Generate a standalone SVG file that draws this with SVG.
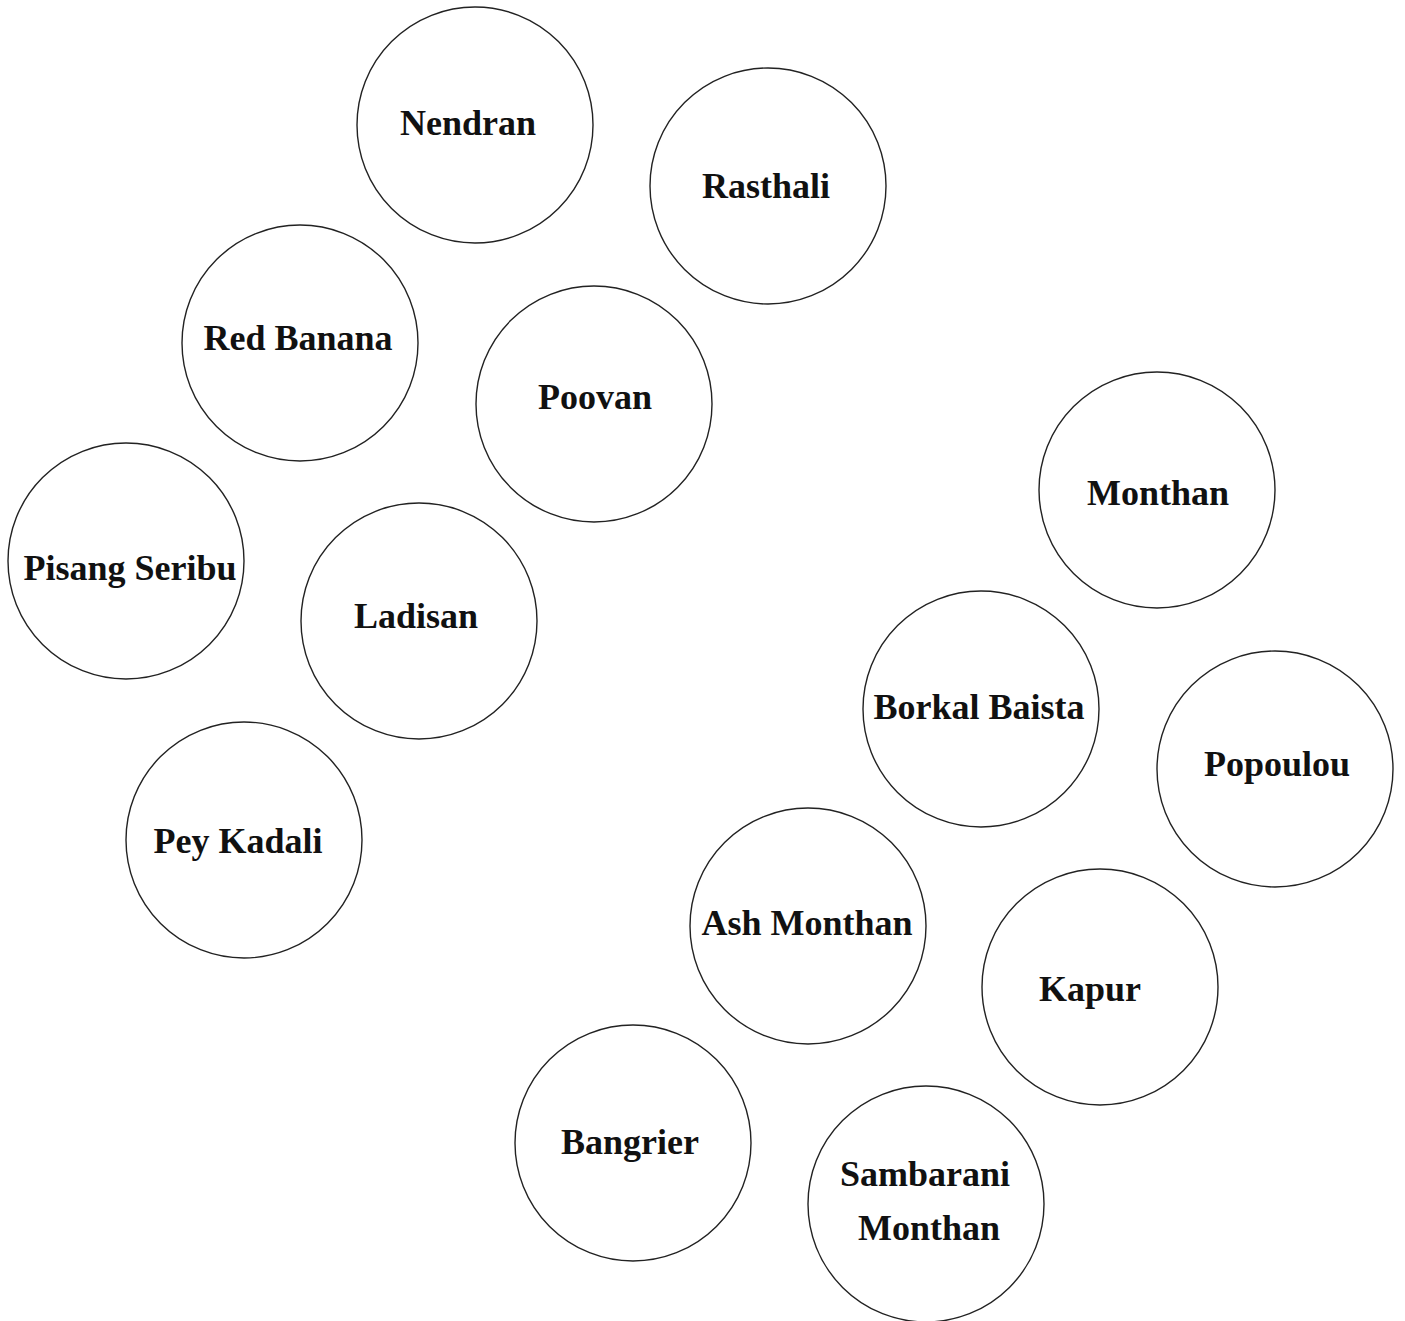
<svg xmlns="http://www.w3.org/2000/svg" width="1405" height="1321" viewBox="0 0 1405 1321">
<style>
.n circle{fill:#fff;stroke:#222;stroke-width:1.4}
.n text{font-family:"Liberation Serif","DejaVu Serif",serif;font-weight:bold;font-size:36px;fill:#111;text-anchor:middle}
</style>
<rect width="1405" height="1321" fill="#fff"/>
<g id="connectors"></g>
<g id="nendran" class="n"><circle cx="475" cy="125" r="118"/><text x="468" y="135">Nendran</text></g>
<g id="rasthali" class="n"><circle cx="768" cy="186" r="118"/><text x="766" y="198">Rasthali</text></g>
<g id="red-banana" class="n"><circle cx="300" cy="343" r="118"/><text x="298" y="350">Red Banana</text></g>
<g id="poovan" class="n"><circle cx="594" cy="404" r="118"/><text x="595" y="409">Poovan</text></g>
<g id="pisang-seribu" class="n"><circle cx="126" cy="561" r="118"/><text x="130" y="580">Pisang Seribu</text></g>
<g id="ladisan" class="n"><circle cx="419" cy="621" r="118"/><text x="416" y="628">Ladisan</text></g>
<g id="pey-kadali" class="n"><circle cx="244" cy="840" r="118"/><text x="238" y="853">Pey Kadali</text></g>
<g id="monthan" class="n"><circle cx="1157" cy="490" r="118"/><text x="1158" y="505">Monthan</text></g>
<g id="borkal-baista" class="n"><circle cx="981" cy="709" r="118"/><text x="979" y="719">Borkal Baista</text></g>
<g id="popoulou" class="n"><circle cx="1275" cy="769" r="118"/><text x="1277" y="776">Popoulou</text></g>
<g id="ash-monthan" class="n"><circle cx="808" cy="926" r="118"/><text x="807" y="935">Ash Monthan</text></g>
<g id="kapur" class="n"><circle cx="1100" cy="987" r="118"/><text x="1090" y="1001">Kapur</text></g>
<g id="bangrier" class="n"><circle cx="633" cy="1143" r="118"/><text x="630" y="1154">Bangrier</text></g>
<g id="sambarani-monthan" class="n"><circle cx="926" cy="1204" r="118"/><text x="925" y="1186">Sambarani</text><text x="929" y="1240">Monthan</text></g>
</svg>
